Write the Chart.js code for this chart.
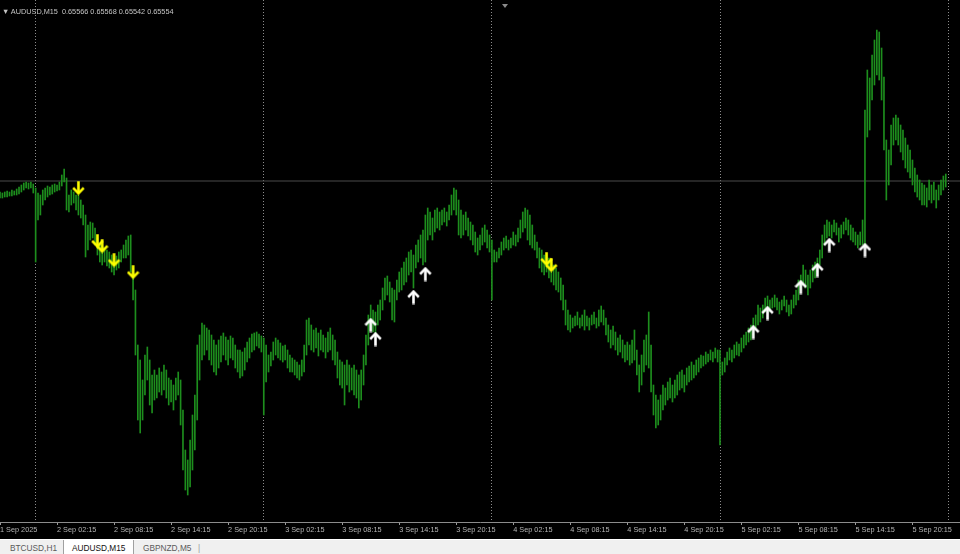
<!DOCTYPE html>
<html>
<head>
<meta charset="utf-8">
<script src="https://cdn.jsdelivr.net/npm/chart.js@4"></script>
<style>
body{margin:0;width:960px;height:554px;overflow:hidden;position:relative;background:#f0f0f0;font-family:"Liberation Sans",Arial,sans-serif}
#wrap{position:absolute;left:0;top:0;width:960px;height:539px;background:#000}
#head{position:absolute;left:2px;top:7px;color:#c4c4c4;font-size:7.3px;white-space:pre;line-height:9px}
#shift{position:absolute;left:502px;top:4px;width:0;height:0;border-left:3px solid transparent;border-right:3px solid transparent;border-top:4px solid #8a8a8a}
#tabs{position:absolute;left:0;top:539px;width:960px;height:15px;background:#f0f0f0;border-top:1px solid #fff;font-size:8.3px;color:#5a5a5a}
#tabs span{position:absolute;top:2px;line-height:12px}
#tabs .on{top:0;height:15px;background:#fff;color:#111;border-left:1px solid #a0a0a0;border-right:1px solid #a0a0a0;padding:2px 0 0 8px;box-sizing:border-box;width:71px}
</style>
</head>
<body>
<div id="wrap"><canvas id="c" width="960" height="539"></canvas></div>
<div id="head">▼ AUDUSD,M15  0.65566 0.65568 0.65542 0.65554</div>
<div id="shift"></div>
<div id="tabs">
  <span style="left:10px">BTCUSD,H1</span>
  <span class="on" style="left:63px">AUDUSD,M15</span>
  <span style="left:143px">GBPNZD,M5</span>
  <span style="left:198px;color:#999">|</span>
</div>
<script>
// AUDUSD M15 bars, prices in points (1 point = 0.00001)
const barHigh = [
65532,65530,65532,65534,65532,65536,65534,65538,65542,65546,
65550,65552,65550,65552,65548,65540,65530,65526,65536,65540,
65544,65542,65546,65548,65546,65552,65566,65578,65560,65526,
65536,65532,65526,65526,65516,65506,65486,65466,65472,65470,
65460,65440,65430,65426,65420,65416,65412,65406,65400,65404,
65412,65416,65426,65436,65444,65446,65380,65336,65226,65196,
65156,65206,65222,65196,65166,65176,65166,65180,65172,65186,
65176,65160,65156,65146,65160,65172,65156,65096,65016,64996,
65036,65086,65126,65226,65246,65270,65266,65260,65256,65246,
65236,65226,65236,65244,65250,65242,65236,65244,65240,65226,
65216,65216,65212,65220,65232,65240,65248,65250,65252,65248,
65244,65240,65226,65206,65212,65232,65240,65236,65230,65224,
65226,65216,65206,65200,65196,65192,65186,65196,65226,65276,
65280,65266,65256,65260,65250,65256,65246,65240,65252,65260,
65246,65236,65212,65196,65192,65186,65196,65186,65180,65186,
65176,65166,65176,65206,65246,65286,65306,65296,65292,65306,
65316,65340,65360,65364,65352,65340,65336,65356,65372,65380,
65392,65400,65412,65416,65406,65426,65436,65446,65456,65486,
65500,65492,65480,65496,65500,65492,65496,65500,65492,65506,
65526,65540,65536,65516,65496,65486,65492,65480,65472,65466,
65452,65440,65446,65460,65466,65456,65446,65436,65416,65412,
65420,65432,65440,65444,65436,65440,65452,65446,65460,65476,
65492,65500,65496,65486,65466,65446,65432,65420,65416,65406,
65406,65400,65396,65386,65380,65372,65360,65346,65316,65296,
65286,65280,65284,65292,65280,65286,65296,65284,65280,65286,
65292,65280,65296,65304,65296,65280,65266,65256,65264,65252,
65240,65246,65236,65226,65232,65226,65236,65256,65216,65186,
65206,65236,65246,65292,65226,65146,65126,65116,65126,65146,
65140,65152,65160,65146,65156,65166,65172,65176,65166,65180,
65184,65192,65186,65196,65200,65206,65204,65212,65208,65216,
65212,65220,65216,65216,65192,65200,65212,65220,65216,65226,
65232,65228,65240,65246,65252,65260,65266,65280,65286,65306,
65300,65306,65320,65324,65316,65320,65326,65320,65312,65316,
65324,65316,65306,65316,65326,65336,65356,65366,65386,65376,
65366,65376,65386,65392,65400,65416,65446,65466,65476,65472,
65466,65476,65470,65460,65466,65472,65480,65476,65466,65460,
65452,65446,65452,65476,65696,65776,65760,65806,65836,65856,
65852,65820,65762,65636,65616,65666,65680,65686,65680,65666,
65656,65640,65626,65616,65596,65580,65566,65556,65550,65546,
65540,65556,65546,65552,65536,65546,65556,65564,65568
];
const barLow = [
65520,65520,65522,65522,65524,65524,65526,65526,65528,65532,
65536,65540,65538,65540,65530,65392,65476,65486,65506,65516,
65522,65526,65528,65532,65534,65536,65544,65552,65496,65492,
65506,65510,65496,65486,65480,65466,65402,65416,65436,65440,
65426,65406,65392,65386,65392,65384,65380,65372,65366,65376,
65380,65392,65400,65400,65406,65372,65316,65206,65076,65050,
65076,65126,65156,65106,65090,65116,65120,65132,65126,65136,
65120,65106,65112,65096,65116,65126,65066,64976,64936,64926,
64942,64976,65016,65076,65156,65196,65206,65216,65196,65186,
65172,65166,65180,65192,65206,65196,65186,65200,65196,65180,
65172,65160,65164,65176,65192,65200,65212,65216,65224,65220,
65212,65086,65152,65172,65184,65196,65206,65200,65196,65192,
65196,65180,65172,65172,65166,65160,65156,65164,65172,65206,
65226,65216,65212,65220,65204,65216,65212,65200,65212,65216,
65196,65186,65160,65146,65140,65106,65146,65132,65136,65126,
65120,65100,65116,65146,65186,65226,65256,65252,65246,65266,
65276,65296,65316,65326,65312,65276,65272,65316,65332,65336,
65346,65352,65366,65372,65340,65380,65392,65400,65386,65392,
65436,65446,65436,65452,65460,65456,65466,65472,65464,65476,
65486,65496,65486,65446,65440,65446,65456,65444,65436,65426,
65412,65406,65416,65426,65432,65420,65412,65316,65392,65392,
65400,65406,65416,65420,65416,65420,65426,65424,65432,65440,
65452,65460,65436,65426,65420,65416,65400,65380,65372,65366,
65372,65360,65352,65346,65336,65332,65316,65296,65266,65256,
65252,65260,65264,65266,65260,65264,65256,65264,65256,65266,
65268,65260,65264,65272,65266,65246,65232,65220,65226,65216,
65206,65212,65200,65192,65196,65186,65190,65196,65166,65132,
65146,65172,65186,65180,65132,65086,65060,65066,65076,65096,
65106,65116,65120,65112,65120,65126,65136,65140,65132,65146,
65152,65156,65160,65166,65172,65180,65184,65188,65192,65196,
65192,65200,65192,65026,65166,65172,65186,65196,65192,65200,
65206,65204,65212,65220,65226,65232,65236,65246,65256,65266,
65272,65280,65292,65296,65292,65300,65302,65296,65288,65296,
65304,65292,65284,65288,65300,65306,65316,65336,65346,65340,
65326,65340,65352,65360,65372,65386,65400,65426,65440,65444,
65440,65452,65446,65432,65440,65448,65456,65446,65436,65432,
65426,65420,65426,65426,65426,65642,65656,65716,65746,65766,
65756,65716,65616,65516,65546,65586,65626,65636,65626,65612,
65596,65580,65572,65560,65546,65532,65522,65516,65506,65506,
65502,65516,65510,65516,65500,65516,65526,65536,65542
];

// signal arrows: bar index and price (points)
const sellIdx   = [33, 41, 43, 48, 56, 230, 232];
const sellPrice = [65540, 65434, 65424, 65396, 65372, 65398, 65386];
const buyIdx    = [156, 158, 174, 179, 317, 323, 337, 344, 349, 364];
const buyPrice  = [65266, 65238, 65322, 65368, 65252, 65290, 65342, 65376, 65426, 65416];

const bidPrice = 65554;
const axisStartLabel = '1 Sep 2025';
const tickLabels = ['2 Sep 02:15','2 Sep 08:15','2 Sep 14:15','2 Sep 20:15','3 Sep 02:15','3 Sep 08:15',
  '3 Sep 14:15','3 Sep 20:15','4 Sep 02:15','4 Sep 08:15','4 Sep 14:15','4 Sep 20:15',
  '5 Sep 02:15','5 Sep 08:15','5 Sep 14:15','5 Sep 20:15'];
const separatorLabels = ['2 Sep 00:00','3 Sep 00:00','4 Sep 00:00','5 Sep 00:00','6 Sep 00:00'];
const yMin = 64872, yMax = 65916;

const SLOTS = 405; // bars + empty space on the right (chart shift)
const MON = ['Jan','Feb','Mar','Apr','May','Jun','Jul','Aug','Sep','Oct','Nov','Dec'];
const t0 = Date.UTC(2025, 8, 1, 20, 15);
function pad(n){ return n < 10 ? '0' + n : '' + n; }
let labels = [];
for (let i = 0; i < SLOTS; i++) {
  let d = new Date(t0 + i * 15 * 60000);
  labels.push(d.getUTCDate() + ' ' + MON[d.getUTCMonth()] + ' ' + pad(d.getUTCHours()) + ':' + pad(d.getUTCMinutes()));
}

const P = v => v / 100000;
let bars = barLow.map((l, i) => [P(l), P(barHigh[i])]);
let sells = new Array(SLOTS).fill(null);
sellIdx.forEach((k, j) => sells[k] = P(sellPrice[j]));
let buys = new Array(SLOTS).fill(null);
buyIdx.forEach((k, j) => buys[k] = P(buyPrice[j]));

function makeArrow(color, up) {
  let c = document.createElement('canvas');
  c.width = 13; c.height = 15;
  let g = c.getContext('2d');
  g.strokeStyle = color; g.lineWidth = 2.6; g.lineJoin = 'miter';
  if (!up) { g.translate(0, 15); g.scale(1, -1); }
  g.beginPath(); g.moveTo(6.5, 14.5); g.lineTo(6.5, 2); g.stroke();
  g.beginPath(); g.moveTo(1.2, 7.6); g.lineTo(6.5, 2.2); g.lineTo(11.8, 7.6); g.stroke();
  return c;
}

new Chart(document.getElementById('c'), {
  type: 'bar',
  data: {
    labels: labels,
    datasets: [
      { type: 'line', data: sells, showLine: false, pointStyle: makeArrow('#ffff00', false), order: 1 },
      { type: 'line', data: buys, showLine: false, pointStyle: makeArrow('#ffffff', true), order: 1 },
      { type: 'line', data: [{x: labels[0], y: P(bidPrice)}, {x: labels[SLOTS - 1], y: P(bidPrice)}],
        borderColor: '#4a4a4a', borderWidth: 1, pointRadius: 0, order: 4 },
      { data: bars, backgroundColor: '#1d8e1d', borderWidth: 0, barThickness: 1, order: 3 }
    ]
  },
  options: {
    responsive: false,
    animation: false,
    layout: { padding: 0, autoPadding: false },
    plugins: { legend: { display: false }, tooltip: { enabled: false } },
    scales: {
      x: {
        offset: false,
        afterFit: s => { s.height = 17; s.paddingLeft = 0; s.paddingRight = 0; },
        border: { display: true, color: '#8c8c8c', dash: [1, 2] },
        grid: {
          offset: false, drawOnChartArea: true, drawTicks: true, tickLength: 3, tickBorderDash: [],
          color: ctx => separatorLabels.includes(labels[ctx.index]) ? '#8c8c8c' : 'rgba(0,0,0,0)',
          tickColor: ctx => (ctx.index === 0 || tickLabels.includes(labels[ctx.index])) ? '#9a9a9a' : 'rgba(0,0,0,0)'
        },
        ticks: {
          autoSkip: false, maxRotation: 0, minRotation: 0, align: 'start', padding: 1,
          color: '#b4b4b4', font: { family: 'Liberation Sans', size: 7.3 },
          callback: (v, i) => i === 0 ? axisStartLabel : (tickLabels.includes(labels[i]) ? labels[i] : '')
        }
      },
      y: { display: false, min: P(yMin), max: P(yMax) }
    }
  }
});
</script>
</body>
</html>
